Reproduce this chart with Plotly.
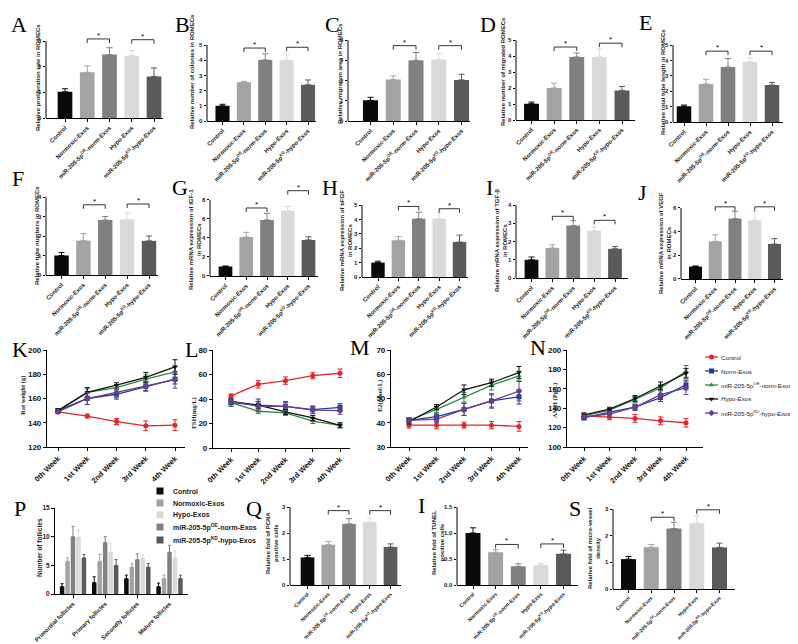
import plotly.graph_objects as go

W, H = 798, 644

# ---------------- data ----------------
groups = ["Control", "Normoxic-Exos", "miR-205-5p<sup>OE</sup>-norm-Exos",
          "Hypo-Exos", "miR-205-5p<sup>KD</sup>-hypo-Exos"]

prolif_rate = [1.02, 1.78, 2.47, 2.43, 1.62]
prolif_err = [0.12, 0.25, 0.27, 0.20, 0.33]
colonies = [1.0, 2.55, 4.02, 4.0, 2.38]
colonies_err = [0.10, 0.06, 0.40, 0.40, 0.32]
migration_area = [1.02, 2.05, 3.0, 3.03, 2.03]
migration_area_err = [0.15, 0.18, 0.38, 0.30, 0.28]
migrated = [1.02, 2.0, 3.94, 3.94, 1.85]
migrated_err = [0.10, 0.30, 0.25, 0.50, 0.25]
tube_length = [1.02, 2.47, 3.57, 3.9, 2.4]
tube_length_err = [0.08, 0.30, 0.55, 0.27, 0.17]
tube_numbers = [1.0, 1.76, 2.82, 2.85, 1.75]
tube_numbers_err = [0.15, 0.37, 0.18, 0.33, 0.25]
igf1 = [1.0, 4.1, 5.9, 6.87, 3.8]
igf1_err = [0.05, 0.50, 0.70, 0.45, 0.33]
bfgf = [1.0, 2.55, 4.05, 4.05, 2.43]
bfgf_err = [0.10, 0.25, 0.45, 0.40, 0.48]
tgfb = [1.0, 1.64, 2.87, 2.59, 1.6]
tgfb_err = [0.15, 0.18, 0.27, 0.22, 0.12]
vegf = [1.05, 3.18, 5.1, 4.95, 2.96]
vegf_err = [0.05, 0.56, 0.62, 0.75, 0.45]
pcna = [1.06, 1.55, 2.35, 2.42, 1.46]
pcna_err = [0.08, 0.13, 0.20, 0.16, 0.12]
tunel = [1.0, 0.63, 0.36, 0.38, 0.6]
tunel_err = [0.10, 0.05, 0.05, 0.03, 0.07]
mvd = [1.12, 1.57, 2.27, 2.47, 1.56]
mvd_err = [0.10, 0.10, 0.23, 0.28, 0.16]

weeks = ["0th Week", "1st Week", "2nd Week", "3rd Week", "4th Week"]
line_series = ["Control", "Norm-Exos", "miR-205-5p<sup>OE</sup>-norm-Exos",
               "Hypo-Exos", "miR-205-5p<sup>KD</sup>-hypo-Exos"]

weight_vals = [
    [149, 145.5, 141, 137.5, 138],
    [150, 160, 163.5, 170, 176],
    [150, 165, 169, 176, 182],
    [150, 165, 171, 177.5, 186],
    [149, 160, 165, 170, 175.5],
]
weight_errs = [
    [1.5, 1.5, 2.5, 4, 4.5],
    [1.5, 5, 4, 3.5, 4],
    [1, 3, 2, 3.5, 5],
    [1.5, 4, 2, 4, 6],
    [1, 5, 4, 4, 7],
]
fsh_vals = [
    [42.5, 52, 55, 59, 61],
    [37, 35, 34, 31.3, 33.2],
    [37, 30, 28.6, 22, 18.5],
    [38, 35, 29.4, 24.5, 18.5],
    [38, 34, 34, 31, 30.5],
]
fsh_errs = [
    [1.5, 3, 3, 2.5, 3.5],
    [3, 5, 3, 3, 3],
    [3, 2, 2, 2, 2],
    [2, 3, 2, 2, 2],
    [2, 4, 4, 3, 3],
]
e2_vals = [
    [39, 39, 39, 39, 38.5],
    [41, 42.5, 45.5, 49, 50.7],
    [41, 45.5, 50.5, 55.5, 59.3],
    [40.5, 46.5, 53.6, 56.5, 60.7],
    [41, 41.5, 45.5, 49, 53],
]
e2_errs = [
    [1.2, 1.5, 1.2, 1.5, 2],
    [1, 1.5, 2.5, 2.5, 3],
    [1, 1.2, 2, 2, 2],
    [1, 1, 2, 1.5, 2.5],
    [1, 1.5, 2.5, 3, 4],
]
amh_vals = [
    [132, 131, 129.5, 127, 125],
    [130, 136, 141, 151, 164],
    [132, 138, 149, 161, 178],
    [133, 139, 150, 163, 176],
    [131, 134, 141, 154, 161],
]
amh_errs = [
    [3, 3, 4, 4, 4.5],
    [2, 3, 3, 4, 5],
    [2, 2, 3, 3, 6],
    [2, 2, 3, 4, 5],
    [2, 3, 3, 4, 7],
]

follicle_types = ["Primordial follicles", "Primary follicles",
                  "Secondly follicles", "Mature follicles"]
follicle_series = ["Control", "Normoxic-Exos", "miR-205-5p<sup>OE</sup>-norm-Exos",
                   "Hypo-Exos", "miR-205-5p<sup>KD</sup>-hypo-Exos"]
follicle_vals = [
    [1.3, 2.0, 2.7, 1.3],
    [5.7, 5.7, 4.7, 2.7],
    [10.0, 9.0, 6.0, 7.3],
    [9.9, 7.3, 6.3, 6.3],
    [6.3, 5.0, 4.7, 2.7],
]
follicle_errs = [
    [0.5, 1.0, 0.6, 0.6],
    [0.6, 1.2, 0.6, 0.6],
    [1.8, 1.0, 1.0, 1.2],
    [1.2, 1.6, 0.6, 1.2],
    [0.6, 1.0, 0.6, 0.6],
]
follicle_legend_order = [0, 1, 3, 2, 4]

# ---------------- styling ----------------
bar_colors = ["#0a0a0a", "#a3a3a3", "#808080", "#d9d9d9", "#5a5a5a"]
line_colors = ["#e3262b", "#1f3c98", "#2e8b45", "#111111", "#6a3d8f"]
line_symbols = ["circle", "square", "triangle-up", "triangle-down", "diamond"]
SANS = "Liberation Sans"
SERIF = "Liberation Serif"


def X(px):
    return px / W


def Y(py):
    return 1 - py / H


def axn(k):
    return ("x", "y") if k == 1 else (f"x{k}", f"y{k}")


def lay(k):
    return ("xaxis", "yaxis") if k == 1 else (f"xaxis{k}", f"yaxis{k}")


fig = go.Figure()
layout = {}
shapes = []
annotations = []


def add_letter(letter, lx, ly):
    annotations.append(dict(text=letter, x=X(lx), y=Y(ly), xref="paper", yref="paper",
                            showarrow=False, xanchor="center", yanchor="middle",
                            font=dict(family=SERIF, size=22, color="black")))


def add_ytitle(text, tx, ty, size=6, family=SANS):
    annotations.append(dict(text=text, x=X(tx), y=Y(ty), xref="paper", yref="paper",
                            showarrow=False, textangle=-90, xanchor="center", yanchor="middle",
                            align="center",
                            font=dict(family=family, size=size, color="#222", weight="bold")))


bar_panels = [
    dict(letter="A", vals=prolif_rate, errs=prolif_err, title="Relative proliferation rate in ROMECs",
         ax=38, c0=57, c4=146, end=155, y0=110, yt=33, top=3, dt=1, br=(3.08, 3.05), L=(11, 16), T=(30, 70), fs=6),
    dict(letter="B", vals=colonies, errs=colonies_err, title="Relative number of colonies in ROMECs",
         ax=199, c0=214.5, c4=300, end=308, y0=113, yt=37, top=5, dt=1, br=(4.8, 4.85), L=(174, 16), T=(184, 64), fs=6),
    dict(letter="C", vals=migration_area, errs=migration_area_err, title="Relative migration area in ROMECs",
         ax=340, c0=362.5, c4=453.5, end=462, y0=113, yt=32, top=4, dt=1, br=(3.72, 3.72), L=(324, 16), T=(332, 66), fs=6),
    dict(letter="D", vals=migrated, errs=migrated_err, title="Relative number of migrated ROMECs",
         ax=508, c0=523.5, c4=614, end=627, y0=112, yt=32, top=5, dt=1, br=(4.56, 4.8), L=(480, 16), T=(495, 64), fs=6),
    dict(letter="E", vals=tube_length, errs=tube_length_err, title="Relative total tube length in ROMECs",
         ax=665, c0=676, c4=764, end=775, y0=114, yt=37, top=5, dt=1, br=(4.6, 4.6), L=(637, 15), T=(655, 74), fs=6),
    dict(letter="F", vals=tube_numbers, errs=tube_numbers_err, title="Relative tube numbers in ROMECs",
         ax=38, c0=53.5, c4=141, end=150, y0=267, yt=189, top=4, dt=1, br=(3.6, 3.64), L=(10, 170), T=(29, 228), fs=6),
    dict(letter="G", vals=igf1, errs=igf1_err, title="Relative mRNA expression of IGF-1<br>in ROMECs",
         ax=202, c0=217.5, c4=300.5, end=310, y0=268, yt=192, top=8, dt=2, br=(7.16, 8.98), L=(172, 180), T=(187, 232), fs=6),
    dict(letter="H", vals=bfgf, errs=bfgf_err, title="Relative mRNA expression of bFGF<br>in ROMECs",
         ax=354, c0=370, c4=451.5, end=460, y0=269, yt=197, top=5, dt=1, br=(4.9, 4.74), L=(322, 180), T=(338, 233), fs=6),
    dict(letter="I", vals=tgfb, errs=tgfb_err, title="Relative mRNA expression of TGF-β<br>in ROMECs",
         ax=508, c0=523.5, c4=607, end=620, y0=270, yt=197, top=4, dt=1, br=(3.38, 3.16), L=(481, 180), T=(493, 233), fs=6),
    dict(letter="J", vals=vegf, errs=vegf_err, title="Relative mRNA expression of VEGF<br>in ROMECs",
         ax=673, c0=687.5, c4=766.5, end=775, y0=271, yt=200, top=6, dt=2, br=(6.1, 6.1), L=(634, 184), T=(657, 235), fs=6),
    dict(letter="Q", vals=pcna, errs=pcna_err, title="Relative fold of PCNA<br>positive cells",
         ax=282, c0=299.5, c4=382.5, end=393, y0=577, yt=499, top=3, dt=1, br=(2.86, 2.86), L=(246, 500), T=(264, 535), fs=5.3),
    dict(letter="I", vals=tunel, errs=tunel_err, title="Relative fold of TUNEL<br>positive cells",
         ax=449, c0=465, c4=555.5, end=570, y0=577, yt=499, top=1.5, dt=0.5, br=(0.78, 0.79), L=(413, 497), T=(430, 535), fs=5.3),
    dict(letter="S", vals=mvd, errs=mvd_err, title="Relative fold of micro-vessel<br>density",
         ax=605, c0=620.5, c4=711.5, end=727, y0=581, yt=501, top=3, dt=1, br=(2.69, 2.97), L=(567, 500), T=(586, 540), fs=5),
]

k = 0
for p in bar_panels:
    k += 1
    xa, ya = axn(k)
    xl, yl = lay(k)
    sp = (p["c4"] - p["c0"]) / 4
    lo = -(p["c0"] - p["ax"]) / sp
    hi = 4 + (p["end"] - p["c4"]) / sp
    ppu = (p["y0"] - p["yt"]) / p["top"]
    R = max(p["top"], max(p["br"])) * 1.04
    ytop_px = p["y0"] - R * ppu
    n = int(round(p["top"] / p["dt"]))
    tv = [i * p["dt"] for i in range(n + 1)]
    tt = [(f"{v:.1f}" if p["dt"] < 1 else f"{int(v)}") for v in tv]
    xfont = dict(family=SANS, size=p["fs"], color="#222", weight="bold")
    yfont = dict(family=SANS, size=6, color="#222", weight="bold")
    layout[xl] = dict(domain=[X(p["ax"]), X(p["end"])], range=[lo, hi], anchor=ya,
                      tickvals=list(range(5)), ticktext=groups, tickangle=-45,
                      ticks="outside", ticklen=3, tickwidth=1, tickcolor="black",
                      showline=True, linecolor="black", linewidth=1,
                      showgrid=False, zeroline=False, tickfont=xfont, automargin=False)
    layout[yl] = dict(domain=[Y(p["y0"]), Y(ytop_px)], range=[0, R], anchor=xa,
                      tickvals=tv, ticktext=tt, ticks="outside", ticklen=2.5, tickwidth=1,
                      tickcolor="black", showline=False, showgrid=False, zeroline=False,
                      tickfont=yfont, automargin=False)
    for i, (v, e, c) in enumerate(zip(p["vals"], p["errs"], bar_colors)):
        fig.add_trace(go.Bar(x=[i], y=[v], width=0.66, name=groups[i],
                             marker=dict(color=c, line=dict(width=0)),
                             error_y=dict(type="data", symmetric=False, array=[e], arrayminus=[0],
                                          color=c, thickness=1, width=3),
                             xaxis=xa, yaxis=ya, showlegend=False))
    shapes.append(dict(type="line", xref=f"{xa} domain", yref=ya, x0=0, x1=0, y0=0, y1=p["top"],
                       line=dict(color="black", width=1)))
    d = 4 / ppu
    for (i, j), b in zip([(1, 2), (3, 4)], p["br"]):
        shapes.append(dict(type="path", xref=xa, yref=ya,
                           path=f"M {i},{b - d} L {i},{b} L {j},{b} L {j},{b - d}",
                           line=dict(color="black", width=0.8)))
        annotations.append(dict(text="*", x=(i + j) / 2, y=b, xref=xa, yref=ya, showarrow=False,
                                yanchor="bottom", yshift=-3,
                                font=dict(family=SANS, size=8, color="black")))
    add_letter(p["letter"], *p["L"])
    add_ytitle(p["title"], *p["T"])

# ---------------- follicle panel P ----------------
k += 1
xa, ya = axn(k)
xl, yl = lay(k)
P = dict(ax=47, g0=65, g3=161.5, end=180, y0=586, yt=500)
sp = (P["g3"] - P["g0"]) / 3
layout[xl] = dict(domain=[X(P["ax"]), X(P["end"])],
                  range=[-(P["g0"] - P["ax"]) / sp, 3 + (P["end"] - P["g3"]) / sp], anchor=ya,
                  tickvals=list(range(4)), ticktext=follicle_types, tickangle=-45,
                  ticks="outside", ticklen=3, tickcolor="black", showline=True, linecolor="black",
                  linewidth=1, showgrid=False, zeroline=False,
                  tickfont=dict(family=SANS, size=6, color="#222", weight="bold"), automargin=False)
layout[yl] = dict(domain=[Y(P["y0"]), Y(P["yt"])], range=[0, 15], anchor=xa,
                  tickvals=[0, 5, 10, 15], ticks="outside", ticklen=3, tickcolor="black",
                  showline=True, linecolor="black", linewidth=1, showgrid=False, zeroline=False,
                  tickfont=dict(family=SANS, size=6.5, color="#222", weight="bold"), automargin=False)
for i in range(5):
    fig.add_trace(go.Bar(x=list(range(4)), y=follicle_vals[i], width=0.14, offset=(i - 2) * 0.17 - 0.07,
                         name=follicle_series[i],
                         marker=dict(color=bar_colors[i], line=dict(width=0)),
                         error_y=dict(type="data", symmetric=False, array=follicle_errs[i],
                                      arrayminus=[0] * 4, color=bar_colors[i], thickness=1, width=1.5),
                         xaxis=xa, yaxis=ya, showlegend=False))
add_letter("P", 12, 500)
add_ytitle("Number of follicles", 31, 540, size=6.5)

# ---------------- line panels ----------------
line_panels = [
    dict(letter="K", vals=weight_vals, errs=weight_errs, title="Rat weight (g)",
         ax=39, p0=50, p4=167, end=177, ybot=439, ytop=342, rng=[120, 200], dt=20, L=(12, 342), T=(15, 388)),
    dict(letter="L", vals=fsh_vals, errs=fsh_errs, title="FSH(mg/L)",
         ax=205, p0=223, p4=332, end=342, ybot=440, ytop=342, rng=[0, 80], dt=20, L=(183, 342), T=(186, 405)),
    dict(letter="M", vals=e2_vals, errs=e2_errs, title="E2(pmol/L)",
         ax=383, p0=401, p4=511, end=520, ybot=439, ytop=342, rng=[30, 70], dt=10, L=(352, 339), T=(372, 388)),
    dict(letter="N", vals=amh_vals, errs=amh_errs, title="AMH (Pg/L)",
         ax=559, p0=576, p4=678, end=695, ybot=439, ytop=342, rng=[100, 200], dt=20, L=(530, 339), T=(547, 393)),
]
for p in line_panels:
    k += 1
    xa, ya = axn(k)
    xl, yl = lay(k)
    sp = (p["p4"] - p["p0"]) / 4
    layout[xl] = dict(domain=[X(p["ax"]), X(p["end"])],
                      range=[-(p["p0"] - p["ax"]) / sp, 4 + (p["end"] - p["p4"]) / sp], anchor=ya,
                      tickvals=list(range(5)), ticktext=weeks, tickangle=-45,
                      ticks="outside", ticklen=3, tickcolor="black", showline=True, linecolor="black",
                      linewidth=1.2, showgrid=False, zeroline=False,
                      tickfont=dict(family=SANS, size=7.5, color="#111", weight="bold"), automargin=False)
    layout[yl] = dict(domain=[Y(p["ybot"]), Y(p["ytop"])], range=p["rng"], anchor=xa,
                      dtick=p["dt"], tick0=p["rng"][0], ticks="outside", ticklen=3, tickcolor="black",
                      showline=True, linecolor="black", linewidth=1.2, showgrid=False, zeroline=False,
                      tickfont=dict(family=SANS, size=8, color="#111", weight="bold"), automargin=False)
    for i in range(5):
        fig.add_trace(go.Scatter(x=list(range(5)), y=p["vals"][i], mode="lines+markers",
                                 name=line_series[i],
                                 line=dict(color=line_colors[i], width=1.3),
                                 marker=dict(symbol=line_symbols[i], size=5, color=line_colors[i]),
                                 error_y=dict(type="data", array=p["errs"][i], color=line_colors[i],
                                              thickness=1, width=2.5),
                                 xaxis=xa, yaxis=ya, showlegend=False, cliponaxis=False))
    add_letter(p["letter"], *p["L"])
    add_ytitle(p["title"], *p["T"], size=6.5, family=SERIF)

# ---------------- legends (pixel overlay) ----------------
k += 1
xa, ya = axn(k)
xl, yl = lay(k)
layout[xl] = dict(domain=[0, 1], range=[0, W], anchor=ya, visible=False, fixedrange=True)
layout[yl] = dict(domain=[0, 1], range=[H, 0], anchor=xa, visible=False, fixedrange=True)

line_leg_rows = [349, 363, 377, 391, 405]
for i, yy in enumerate(line_leg_rows):
    fig.add_trace(go.Scatter(x=[697, 710], y=[yy, yy], mode="lines",
                             line=dict(color=line_colors[i], width=1.3),
                             xaxis=xa, yaxis=ya, showlegend=False, hoverinfo="skip"))
    fig.add_trace(go.Scatter(x=[703.5], y=[yy], mode="markers",
                             marker=dict(symbol=line_symbols[i], size=5, color=line_colors[i]),
                             xaxis=xa, yaxis=ya, showlegend=False, hoverinfo="skip"))
    annotations.append(dict(text=line_series[i], x=X(711), y=Y(yy), xref="paper", yref="paper",
                            showarrow=False, xanchor="left", yanchor="middle",
                            font=dict(family=SANS, size=6.2, color="#222")))

p_leg_rows = [483, 495, 507, 519, 532]
for r, i in enumerate(follicle_legend_order):
    yy = p_leg_rows[r]
    fig.add_trace(go.Scatter(x=[152], y=[yy], mode="markers",
                             marker=dict(symbol="square", size=7, color=bar_colors[i]),
                             xaxis=xa, yaxis=ya, showlegend=False, hoverinfo="skip"))
    annotations.append(dict(text=follicle_series[i], x=X(163), y=Y(yy), xref="paper", yref="paper",
                            showarrow=False, xanchor="left", yanchor="middle",
                            font=dict(family=SANS, size=7, color="#222", weight="bold")))

fig.update_layout(width=W, height=H, margin=dict(l=0, r=0, t=0, b=0),
                  paper_bgcolor="white", plot_bgcolor="rgba(0,0,0,0)",
                  barmode="overlay", showlegend=False,
                  shapes=shapes, annotations=annotations, **layout)
fig.write_html("out.html")
